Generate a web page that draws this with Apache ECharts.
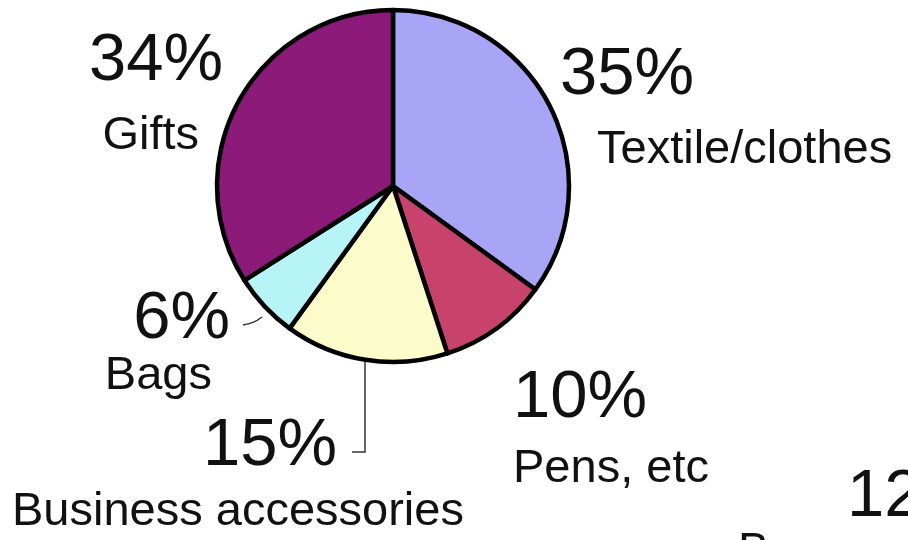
<!DOCTYPE html>
<html>
<head>
<meta charset="utf-8">
<script src="https://cdn.jsdelivr.net/npm/echarts@6/dist/echarts.min.js"></script>
<style>
  html, body { margin: 0; padding: 0; background: #ffffff; }
  #chart { width: 908px; height: 540px; }
</style>
</head>
<body>
<div id="chart"></div>
<script>
// Sales share by product group, clockwise from 12 o'clock
const categories = ['Textile/clothes', 'Pens, etc', 'Business accessories', 'Bags', 'Gifts'];
const shares = [35, 10, 15, 6, 34];
const sliceColors = ['#a9a5f6', '#c8426e', '#fbfcc9', '#b6f4f7', '#8c1a78'];

// Where each slice's percent and name labels sit: [x, y, align]
const percentSpots = [[560, 76, 'left'], [513, 399, 'left'], [337, 447, 'right'], [230, 320, 'right'], [223, 62, 'right']];
const nameSpots = [[597, 150, 'left'], [513, 469, 'left'], [12, 512, 'left'], [212, 376, 'right'], [199, 136, 'right']];
// Leader lines for the two small bottom-left slices
const leaderLines = {
  2: [[365, 362], [365, 452], [352, 452]],
  3: [[262, 317], [254, 323], [243, 325]]
};

const FONT = 'Liberation Sans, Arial, Helvetica, sans-serif';
const PIE_CENTER = [393, 186];
const PIE_RADIUS = 176;

const chart = echarts.init(document.getElementById('chart'), null, { renderer: 'canvas' });

const sliceData = categories.map((name, i) => ({
  name: name,
  value: shares[i],
  itemStyle: { color: sliceColors[i] },
  labelLine: { show: leaderLines[i] !== undefined, smooth: i === 3 ? 0.4 : false }
}));

const nameData = categories.map((name, i) => ({ name: name, value: shares[i] }));

chart.setOption({
  backgroundColor: '#ffffff',
  animation: false,
  series: [
    {
      type: 'pie',
      center: PIE_CENTER,
      radius: PIE_RADIUS,
      startAngle: 90,
      clockwise: true,
      silent: true,
      data: sliceData,
      itemStyle: { borderColor: '#000000', borderWidth: 4.5 },
      label: {
        show: true,
        position: 'outside',
        formatter: '{d}%',
        color: '#111111',
        fontFamily: FONT,
        fontSize: 67,
        lineHeight: 67,
        overflow: 'none'
      },
      labelLine: {
        show: true,
        lineStyle: { color: '#333333', width: 1.5 }
      },
      labelLayout: function (p) {
        const s = percentSpots[p.dataIndex];
        const out = { x: s[0], y: s[1], align: s[2], verticalAlign: 'middle', moveOverlap: null };
        if (leaderLines[p.dataIndex]) out.labelLinePoints = leaderLines[p.dataIndex];
        return out;
      }
    },
    {
      type: 'pie',
      center: PIE_CENTER,
      radius: PIE_RADIUS,
      startAngle: 90,
      clockwise: true,
      silent: true,
      data: nameData,
      itemStyle: { color: 'rgba(0,0,0,0)', borderWidth: 0 },
      label: {
        show: true,
        position: 'outside',
        formatter: '{b}',
        color: '#111111',
        fontFamily: FONT,
        fontSize: 47,
        lineHeight: 47,
        width: 600,
        overflow: 'none'
      },
      labelLine: { show: false },
      labelLayout: function (p) {
        const s = nameSpots[p.dataIndex];
        return { x: s[0], y: s[1], align: s[2], verticalAlign: 'middle' };
      }
    }
  ],
  graphic: [
    {
      type: 'text',
      left: 847,
      top: 464,
      style: { text: '12%', fontFamily: FONT, fontSize: 67, lineHeight: 67, fill: '#111111' }
    },
    {
      type: 'text',
      left: 738,
      top: 529,
      style: { text: 'Banners', fontFamily: FONT, fontSize: 47, lineHeight: 47, fill: '#111111' }
    }
  ]
});
</script>
</body>
</html>
